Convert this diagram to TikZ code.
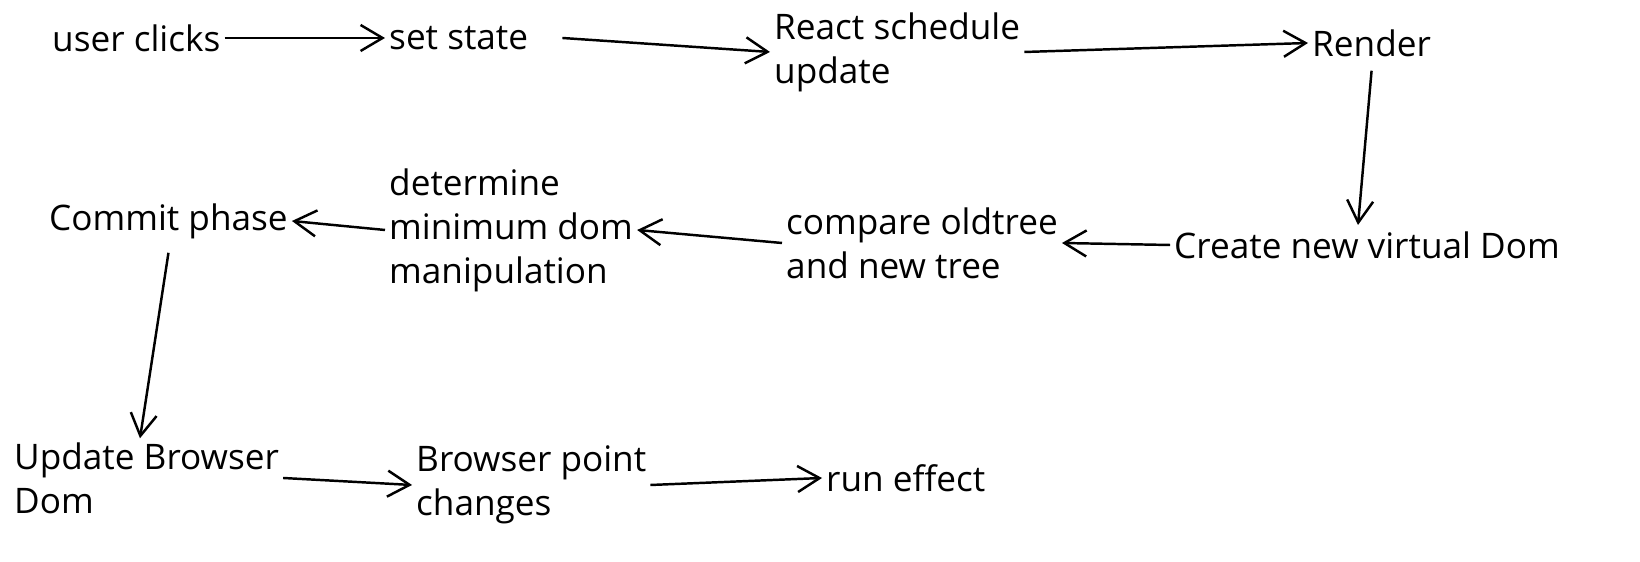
\documentclass[tikz,border=0pt]{standalone}
\usepackage{fontspec}
\setmainfont{Open Sans}
\usetikzlibrary{arrows.meta}
\begin{document}
\begin{tikzpicture}[
        x=0.01cm, y=-0.01cm,
        stage/.style={anchor=west, align=left, inner sep=1pt, font=\fontsize{10}{12.5}\selectfont},
        flow/.style={draw, line width=0.7pt, -{Straight Barb[length=2.2mm, width=2.6mm]}},
    ]
    \useasboundingbox (0,0) rectangle (1640,562);

    % top row
    \node[stage] (clicks) at (48,38) {user clicks};
    \node[stage] (state) at (385,38) {set state};
    \node[stage] (schedule) at (770,52) {React schedule\\update};
    \node[stage] (render) at (1308,43) {Render};
    % middle row
    \node[stage] (vdom) at (1170,245) {Create new virtual Dom};
    \node[stage] (compare) at (782,243) {compare oldtree\\and new tree};
    \node[stage] (minimum) at (385,230) {determine\\minimum dom\\manipulation};
    \node[stage] (commit) at (45,221) {Commit phase};
    % bottom row
    \node[stage] (browser) at (10,478) {Update Browser\\Dom};
    \node[stage] (paint) at (412,485) {Browser point\\changes};
    \node[stage] (effect) at (822,478) {run effect};

    \draw[flow] (clicks.east) -- (state.west);
    \draw[flow] (state.east) ++(30,0) -- (schedule.west);
    \draw[flow] (schedule.east) -- (render.west);
    \draw[flow] (render.south) ++(0,10) -- (1358,225);
    \draw[flow] (vdom.west) -- (compare.east);
    \draw[flow] (compare.west) -- (minimum.east);
    \draw[flow] (minimum.west) -- (commit.east);
    \draw[flow] (commit.south) ++(0,10) -- (browser.north -| 140,0);
    \draw[flow] (browser.east) -- (paint.west);
    \draw[flow] (paint.east) -- (effect.west);
\end{tikzpicture}
\end{document}
